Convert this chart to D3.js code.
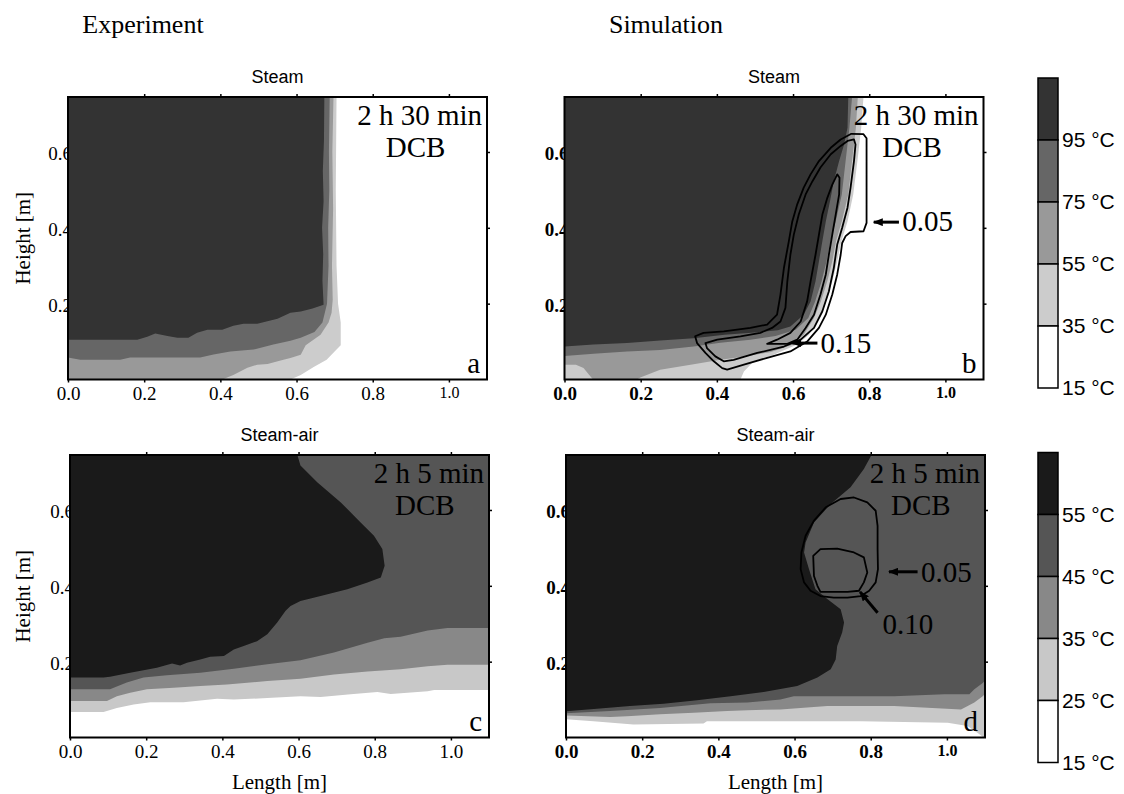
<!DOCTYPE html>
<html>
<head>
<meta charset="utf-8">
<script src="https://cdn.jsdelivr.net/npm/d3@7"></script>
<style>
body { margin: 0; background: #fff; }
</style>
</head>
<body>
<svg id="chart" width="1124" height="794"></svg>
<script>
// axis values
var xDomain = [0, 1.1];
var yDomain = [0, 0.745];
var xTicks = [0, 0.2, 0.4, 0.6, 0.8, 1.0];
var yTicks = [0.2, 0.4, 0.6];

// colour scales (top of bar first)
var steamLabels = ["95 °C", "75 °C", "55 °C", "35 °C", "15 °C"];
var airLabels = ["55 °C", "45 °C", "35 °C", "25 °C", "15 °C"];
var steamShades = ["#333333", "#666666", "#999999", "#cccccc", "#ffffff"];
var airShades = ["#1a1a1a", "#555555", "#888888", "#c8c8c8", "#ffffff"];

// panel a: experiment, steam  (regions >= 35, 55, 75, 95 °C), [length, height] in m
var a35 = [[0,0],[0.584,0],[0.611,0.012],[0.645,0.033],[0.679,0.052],[0.705,0.079],[0.716,0.09],[0.716,0.15],[0.709,0.2],[0.705,0.3],[0.703,0.5],[0.705,0.745],[0,0.745]];
var a55 = [[0,0],[0.405,0],[0.434,0.012],[0.471,0.031],[0.497,0.039],[0.524,0.041],[0.558,0.050],[0.584,0.057],[0.611,0.065],[0.624,0.090],[0.663,0.118],[0.684,0.150],[0.692,0.176],[0.695,0.21],[0.693,0.3],[0.696,0.45],[0.694,0.6],[0.697,0.745],[0,0.745]];
var a75 = [[0,0.058],[0.032,0.052],[0.137,0.052],[0.163,0.058],[0.347,0.058],[0.382,0.066],[0.426,0.074],[0.487,0.079],[0.539,0.092],[0.584,0.102],[0.611,0.110],[0.647,0.125],[0.668,0.150],[0.680,0.20],[0.684,0.30],[0.683,0.40],[0.686,0.50],[0.685,0.60],[0.687,0.745],[0,0.745]];
var a95 = [[0,0.105],[0.182,0.105],[0.208,0.113],[0.229,0.121],[0.261,0.115],[0.287,0.110],[0.316,0.110],[0.339,0.123],[0.366,0.131],[0.405,0.131],[0.434,0.142],[0.461,0.147],[0.497,0.147],[0.55,0.160],[0.584,0.176],[0.611,0.179],[0.642,0.187],[0.671,0.197],[0.668,0.26],[0.670,0.33],[0.667,0.40],[0.671,0.47],[0.669,0.55],[0.672,0.63],[0.673,0.745],[0,0.745]];

// panel b: simulation, steam
var b35 = [[0,0],[0.462,0],[0.471,0.021],[0.497,0.048],[0.549,0.065],[0.611,0.092],[0.642,0.118],[0.668,0.162],[0.686,0.206],[0.703,0.259],[0.716,0.312],[0.727,0.365],[0.743,0.417],[0.758,0.488],[0.769,0.576],[0.779,0.664],[0.785,0.745],[0,0.745]];
var b55 = [[0,0.039],[0.03,0.039],[0.05,0.03],[0.065,0.012],[0.075,0],[0.19,0],[0.199,0.005],[0.251,0.026],[0.339,0.040],[0.409,0.052],[0.47,0.060],[0.54,0.072],[0.595,0.090],[0.628,0.118],[0.655,0.162],[0.673,0.206],[0.690,0.259],[0.703,0.312],[0.713,0.365],[0.728,0.417],[0.745,0.488],[0.755,0.576],[0.765,0.664],[0.770,0.745],[0,0.745]];
var b75 = [[0,0.062],[0.076,0.068],[0.164,0.074],[0.251,0.078],[0.339,0.087],[0.409,0.097],[0.488,0.105],[0.554,0.115],[0.607,0.131],[0.64,0.162],[0.658,0.206],[0.675,0.259],[0.688,0.312],[0.698,0.365],[0.712,0.417],[0.728,0.488],[0.738,0.576],[0.748,0.664],[0.755,0.745],[0,0.745]];
var b95 = [[0,0.087],[0.076,0.092],[0.164,0.096],[0.251,0.103],[0.339,0.109],[0.42,0.118],[0.50,0.124],[0.56,0.130],[0.593,0.140],[0.628,0.171],[0.646,0.206],[0.659,0.259],[0.668,0.312],[0.677,0.365],[0.686,0.417],[0.697,0.470],[0.707,0.523],[0.721,0.576],[0.734,0.620],[0.743,0.664],[0.745,0.745],[0,0.745]];
// panel b: steam fraction contours 0.05 / 0.10 / 0.15
var bLoop05 = [[0.753,0.648],[0.785,0.647],[0.793,0.636],[0.793,0.413],[0.785,0.391],[0.751,0.389],[0.738,0.378],[0.729,0.360],[0.725,0.329],[0.716,0.277],[0.703,0.224],[0.686,0.171],[0.668,0.136],[0.637,0.100],[0.593,0.074],[0.532,0.057],[0.471,0.039],[0.427,0.026],[0.414,0.030],[0.392,0.048],[0.370,0.070],[0.348,0.096],[0.343,0.114],[0.365,0.123],[0.418,0.127],[0.488,0.136],[0.532,0.145],[0.558,0.171],[0.567,0.224],[0.576,0.294],[0.589,0.365],[0.598,0.417],[0.611,0.462],[0.628,0.506],[0.646,0.541],[0.668,0.576],[0.699,0.611],[0.725,0.633]];
var bLoop10 = [[0.743,0.629],[0.760,0.633],[0.764,0.620],[0.760,0.576],[0.751,0.506],[0.743,0.453],[0.729,0.400],[0.716,0.356],[0.707,0.294],[0.694,0.232],[0.677,0.180],[0.655,0.136],[0.620,0.105],[0.576,0.087],[0.506,0.070],[0.444,0.052],[0.418,0.048],[0.396,0.061],[0.374,0.083],[0.370,0.096],[0.401,0.105],[0.462,0.114],[0.514,0.123],[0.545,0.136],[0.567,0.153],[0.580,0.189],[0.585,0.259],[0.593,0.329],[0.602,0.382],[0.615,0.435],[0.633,0.488],[0.651,0.523],[0.672,0.559],[0.699,0.594],[0.725,0.616]];
var bLoop15 = [[0.716,0.541],[0.722,0.532],[0.721,0.488],[0.712,0.435],[0.703,0.382],[0.694,0.329],[0.686,0.277],[0.672,0.224],[0.655,0.171],[0.633,0.136],[0.611,0.105],[0.585,0.094],[0.532,0.094],[0.558,0.105],[0.593,0.123],[0.620,0.153],[0.637,0.206],[0.646,0.259],[0.659,0.329],[0.668,0.382],[0.677,0.435],[0.690,0.479],[0.703,0.514]];

// panel c: experiment, steam-air  (regions >= 25, 35, 45, 55 °C)
var c25 = [[0,0.067],[0.088,0.067],[0.123,0.078],[0.167,0.087],[0.211,0.093],[0.298,0.093],[0.386,0.102],[0.430,0.100],[0.518,0.104],[0.605,0.109],[0.658,0.107],[0.737,0.114],[0.807,0.120],[0.842,0.115],[0.939,0.122],[0.956,0.125],[1.1,0.125],[1.1,0.745],[0,0.745]];
var c35 = [[0,0.096],[0.097,0.096],[0.123,0.109],[0.158,0.118],[0.202,0.127],[0.272,0.131],[0.342,0.136],[0.412,0.140],[0.518,0.149],[0.605,0.155],[0.693,0.166],[0.781,0.174],[0.868,0.180],[0.939,0.188],[0.991,0.192],[1.1,0.192],[1.1,0.745],[0,0.745]];
var c45 = [[0,0.127],[0.105,0.127],[0.149,0.145],[0.193,0.158],[0.254,0.164],[0.342,0.171],[0.430,0.181],[0.518,0.193],[0.605,0.204],[0.693,0.224],[0.781,0.250],[0.825,0.262],[0.868,0.266],[0.939,0.282],[0.991,0.289],[1.1,0.289],[1.1,0.745],[0,0.745]];
var c55 = [[0,0.158],[0.088,0.158],[0.105,0.160],[0.158,0.171],[0.228,0.184],[0.268,0.195],[0.289,0.190],[0.307,0.197],[0.342,0.206],[0.368,0.213],[0.404,0.215],[0.430,0.232],[0.456,0.241],[0.491,0.254],[0.518,0.272],[0.544,0.303],[0.566,0.334],[0.579,0.347],[0.605,0.360],[0.658,0.373],[0.728,0.391],[0.781,0.409],[0.816,0.422],[0.826,0.453],[0.820,0.497],[0.798,0.532],[0.763,0.567],[0.711,0.620],[0.649,0.673],[0.605,0.717],[0.597,0.745],[0,0.745]];

// panel d: simulation, steam-air
var d25 = [[0,0.048],[0.072,0.043],[0.177,0.034],[0.361,0.037],[0.370,0.043],[0.563,0.043],[0.774,0.043],[1.002,0.039],[1.054,0.030],[1.081,0.012],[1.094,0.002],[1.1,0],[1.1,0.745],[0,0.745]];
var d35 = [[0,0.058],[0.116,0.054],[0.16,0.056],[0.247,0.061],[0.335,0.065],[0.423,0.070],[0.476,0.072],[0.563,0.074],[0.686,0.083],[0.861,0.083],[1.037,0.074],[1.072,0.092],[1.094,0.109],[1.1,0.115],[1.1,0.745],[0,0.745]];
var d45 = [[0,0.064],[0.116,0.070],[0.247,0.078],[0.379,0.090],[0.476,0.092],[0.563,0.100],[0.598,0.109],[0.730,0.109],[0.861,0.109],[0.993,0.114],[1.059,0.114],[1.072,0.127],[1.094,0.144],[1.1,0.15],[1.1,0.745],[0,0.745]];
var d55 = [[0,0.069],[0.081,0.076],[0.168,0.083],[0.256,0.089],[0.344,0.098],[0.432,0.109],[0.519,0.120],[0.607,0.136],[0.660,0.158],[0.695,0.180],[0.708,0.206],[0.712,0.241],[0.725,0.277],[0.730,0.303],[0.721,0.338],[0.686,0.365],[0.655,0.391],[0.638,0.444],[0.625,0.488],[0.629,0.514],[0.651,0.567],[0.695,0.616],[0.747,0.660],[0.782,0.708],[0.802,0.745],[0,0.745]];
var dLoop05 = [[0.756,0.633],[0.791,0.620],[0.813,0.598],[0.818,0.558],[0.818,0.497],[0.819,0.444],[0.813,0.409],[0.796,0.387],[0.774,0.373],[0.739,0.369],[0.703,0.369],[0.668,0.373],[0.642,0.387],[0.625,0.409],[0.616,0.444],[0.618,0.488],[0.629,0.532],[0.651,0.572],[0.682,0.607],[0.721,0.629]];
var dLoop10 = [[0.668,0.497],[0.712,0.498],[0.756,0.488],[0.782,0.475],[0.791,0.435],[0.782,0.409],[0.769,0.387],[0.739,0.384],[0.668,0.384],[0.660,0.400],[0.651,0.426],[0.649,0.479]];

var plotW = 419, plotH = 282.5;
var panels = [
  { id: "a", left: 68, top: 97, title: "Steam", time: "2 h 30 min", shades: steamShades,
    regions: [a35, a55, a75, a95], loops: [], arrows: [], bold: false, smallOne: true, yLabel: true, xLabel: false },
  { id: "b", left: 564.5, top: 97, title: "Steam", time: "2 h 30 min", shades: steamShades,
    regions: [b35, b55, b75, b95], loops: [bLoop05, bLoop10, bLoop15],
    arrows: [ { from: [0.878, 0.415], to: [0.812, 0.415], label: "0.05", at: [0.887, 0.391] },
              { from: [0.664, 0.096], to: [0.598, 0.096], label: "0.15", at: [0.672, 0.071] } ],
    bold: true, smallOne: true, yLabel: false, xLabel: false },
  { id: "c", left: 70, top: 455, title: "Steam-air", time: "2 h 5 min", shades: airShades,
    regions: [c25, c35, c45, c55], loops: [], arrows: [], bold: false, smallOne: false, yLabel: true, xLabel: true },
  { id: "d", left: 566, top: 455, title: "Steam-air", time: "2 h 5 min", shades: airShades,
    regions: [d25, d35, d45, d55], loops: [dLoop05, dLoop10],
    arrows: [ { from: [0.923, 0.437], to: [0.848, 0.437], label: "0.05", at: [0.932, 0.410] },
              { from: [0.818, 0.329], to: [0.772, 0.384], label: "0.10", at: [0.831, 0.272] } ],
    bold: true, smallOne: true, yLabel: false, xLabel: true }
];

var serif = "'Liberation Serif','Times New Roman',serif";
var sans = "'Liberation Sans',Arial,sans-serif";

var svg = d3.select("#chart");
var defs = svg.append("defs");
defs.append("marker")
    .attr("id", "head")
    .attr("viewBox", "0 0 10 8")
    .attr("refX", 9).attr("refY", 4)
    .attr("markerWidth", 10).attr("markerHeight", 8)
    .attr("markerUnits", "userSpaceOnUse")
    .attr("orient", "auto")
  .append("path")
    .attr("d", "M0,0L10,4L0,8Z")
    .attr("fill", "#000");

var fmt = d3.format(".1f");

panels.forEach(function (p) {
  var x = d3.scaleLinear().domain(xDomain).range([p.left, p.left + plotW]);
  var y = d3.scaleLinear().domain(yDomain).range([p.top + plotH, p.top]);
  var line = d3.line().x(function (d) { return x(d[0]); }).y(function (d) { return y(d[1]); });
  var loop = d3.line().x(function (d) { return x(d[0]); }).y(function (d) { return y(d[1]); }).curve(d3.curveLinearClosed);
  var g = svg.append("g");

  // left labels go under the plot, so the last digit is partly hidden
  var ya = g.append("g")
      .attr("transform", "translate(" + p.left + ",0)")
      .call(d3.axisLeft(y).tickValues(yTicks).tickSize(0).tickPadding(-4).tickFormat(fmt));
  ya.select(".domain").remove();
  ya.selectAll("text")
      .attr("font-family", serif).attr("font-size", 19).attr("dy", "0.42em")
      .attr("font-weight", p.bold ? "bold" : null).attr("fill", "#000");

  defs.append("clipPath").attr("id", "clip-" + p.id)
    .append("rect").attr("x", x(0)).attr("y", y(yDomain[1])).attr("width", plotW).attr("height", plotH);

  var plot = g.append("g").attr("clip-path", "url(#clip-" + p.id + ")");
  plot.append("rect")
      .attr("x", x(0)).attr("y", y(yDomain[1])).attr("width", plotW).attr("height", plotH)
      .attr("fill", p.shades[4]);
  plot.selectAll("path.band").data(p.regions).join("path")
      .attr("class", "band")
      .attr("d", function (d) { return line(d) + "Z"; })
      .attr("fill", function (d, i) { return p.shades[3 - i]; });

  // in-plot text
  var t1 = g.append("text")
      .attr("x", x(xDomain[1]) - 5).attr("y", p.top + 28)
      .attr("text-anchor", "end").attr("font-family", serif).attr("font-size", 29)
      .text(p.time);
  var w1 = t1.node().getComputedTextLength();
  g.append("text")
      .attr("x", x(xDomain[1]) - 5 - w1 / 2 - 4).attr("y", p.top + 60)
      .attr("text-anchor", "middle").attr("font-family", serif).attr("font-size", 29)
      .text("DCB");
  g.append("text")
      .attr("x", x(xDomain[1]) - 7).attr("y", p.top + plotH - 7)
      .attr("text-anchor", "end").attr("font-family", serif).attr("font-size", 29)
      .text(p.id);

  // contour lines
  g.selectAll("path.loop").data(p.loops).join("path")
      .attr("class", "loop")
      .attr("d", loop)
      .attr("fill", "none").attr("stroke", "#000").attr("stroke-width", 1.8)
      .attr("stroke-linejoin", "round");

  p.arrows.forEach(function (a) {
    g.append("line")
        .attr("x1", x(a.from[0])).attr("y1", y(a.from[1]))
        .attr("x2", x(a.to[0])).attr("y2", y(a.to[1]))
        .attr("stroke", "#000").attr("stroke-width", 3)
        .attr("marker-end", "url(#head)");
    g.append("text")
        .attr("x", x(a.at[0])).attr("y", y(a.at[1]))
        .attr("font-family", serif).attr("font-size", 29)
        .text(a.label);
  });

  // frame and ticks
  g.append("rect")
      .attr("x", x(0)).attr("y", y(yDomain[1])).attr("width", plotW).attr("height", plotH)
      .attr("fill", "none").attr("stroke", "#000").attr("stroke-width", 2);

  var xa = g.append("g")
      .attr("transform", "translate(0," + (p.top + plotH) + ")")
      .call(d3.axisBottom(x).tickValues(xTicks).tickSize(3).tickPadding(4).tickFormat(fmt));
  xa.select(".domain").remove();
  xa.selectAll("line").attr("stroke-width", 1.5);
  xa.selectAll("text")
      .attr("font-family", serif).attr("fill", "#000")
      .attr("font-weight", p.bold ? "bold" : null)
      .attr("font-size", function (d) { return (p.smallOne && d === 1.0) ? 16 : 19; });

  var xt = g.append("g")
      .attr("transform", "translate(0," + p.top + ")")
      .call(d3.axisTop(x).tickValues(xTicks.slice(1)).tickSize(3).tickFormat(""));
  xt.select(".domain").remove();
  xt.selectAll("line").attr("stroke-width", 1.5);

  var yr = g.append("g")
      .attr("transform", "translate(" + (p.left + plotW) + ",0)")
      .call(d3.axisRight(y).tickValues(yTicks).tickSize(3).tickFormat(""));
  yr.select(".domain").remove();
  yr.selectAll("line").attr("stroke-width", 1.5);

  g.append("text")
      .attr("x", p.left + plotW / 2).attr("y", p.top - 14)
      .attr("text-anchor", "middle").attr("font-family", sans).attr("font-size", 18)
      .text(p.title);

  if (p.yLabel) {
    g.append("text")
        .attr("transform", "translate(30," + (p.top + plotH / 2) + ") rotate(-90)")
        .attr("text-anchor", "middle").attr("font-family", serif).attr("font-size", 21)
        .text("Height [m]");
  }
  if (p.xLabel) {
    g.append("text")
        .attr("x", p.left + plotW / 2).attr("y", p.top + plotH + 51)
        .attr("text-anchor", "middle").attr("font-family", serif).attr("font-size", 21)
        .text("Length [m]");
  }
});

// column titles
svg.append("text").attr("x", 143).attr("y", 33).attr("text-anchor", "middle")
    .attr("font-family", serif).attr("font-size", 26).text("Experiment");
svg.append("text").attr("x", 666).attr("y", 33).attr("text-anchor", "middle")
    .attr("font-family", serif).attr("font-size", 26).text("Simulation");

// colour bars
function colorbar(top, shades, labels) {
  var s = d3.scaleLinear().domain([0, shades.length]).range([top, top + 310]);
  var cb = svg.append("g");
  cb.selectAll("rect").data(shades).join("rect")
      .attr("x", 1038).attr("width", 20)
      .attr("y", function (d, i) { return s(i); })
      .attr("height", function (d, i) { return s(i + 1) - s(i); })
      .attr("fill", function (d) { return d; })
      .attr("stroke", "#000").attr("stroke-width", 1.5);
  cb.selectAll("text").data(labels).join("text")
      .attr("x", 1062).attr("y", function (d, i) { return s(i + 1) + 7; })
      .attr("font-family", sans).attr("font-size", 21)
      .text(function (d) { return d; });
}
colorbar(78, steamShades, steamLabels);
colorbar(452.5, airShades, airLabels);
</script>
</body>
</html>
